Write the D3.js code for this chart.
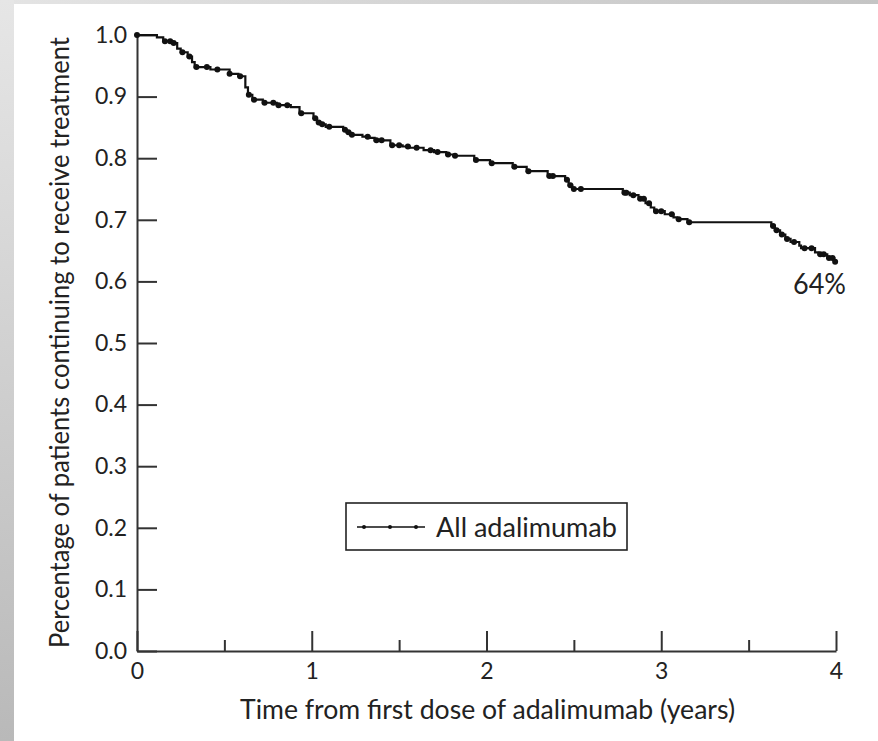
<!DOCTYPE html>
<html>
<head>
<meta charset="utf-8">
<script src="https://cdn.jsdelivr.net/npm/d3@7"></script>
<style>
  html, body { margin: 0; padding: 0; background: #fff; }
  svg { display: block; }
  text { font-family: Lato, "Open Sans", sans-serif; fill: #222; }
</style>
</head>
<body>
<svg id="chart" width="878" height="741"></svg>
<script>
// ---- Data ----
const xTickValues = [0, 1, 2, 3, 4];
const xMinorTickValues = [0.5, 1.5, 2.5, 3.5];
const yTickValues = [0, 0.1, 0.2, 0.3, 0.4, 0.5, 0.6, 0.7, 0.8, 0.9, 1.0];

// Kaplan-Meier step: time of drop (years) and survival after drop
const stepTimes = [0.114, 0.15, 0.20, 0.23, 0.25, 0.29, 0.315, 0.33, 0.42, 0.53, 0.58, 0.62, 0.635, 0.66, 0.72, 0.80, 0.88,
  0.93, 1.01, 1.03, 1.05, 1.08, 1.18, 1.20, 1.22, 1.29, 1.33, 1.36, 1.45, 1.52, 1.56, 1.64, 1.70, 1.77, 1.81, 1.93,
  2.02, 2.15, 2.23, 2.35, 2.45, 2.47, 2.49, 2.78, 2.82, 2.87, 2.91, 2.94, 2.96, 3.02, 3.07, 3.09, 3.15,
  3.63, 3.65, 3.68, 3.71, 3.74, 3.79, 3.80, 3.88, 3.90, 3.95, 3.99];
const stepSurv = [0.996, 0.990, 0.987, 0.978, 0.972, 0.965, 0.956, 0.948, 0.944, 0.937, 0.933, 0.915, 0.903, 0.895, 0.890, 0.886, 0.883,
  0.873, 0.865, 0.858, 0.855, 0.851, 0.846, 0.842, 0.838, 0.835, 0.833, 0.829, 0.821, 0.819, 0.817, 0.813, 0.810, 0.806, 0.804, 0.797,
  0.792, 0.786, 0.779, 0.771, 0.765, 0.756, 0.750, 0.744, 0.740, 0.734, 0.727, 0.720, 0.714, 0.709, 0.704, 0.701, 0.696,
  0.690, 0.683, 0.676, 0.669, 0.664, 0.658, 0.654, 0.647, 0.644, 0.638, 0.632];
// censored observations (marks on the curve)
const censorTimes = [0.0, 0.16, 0.19, 0.21, 0.26, 0.30, 0.34, 0.40, 0.46, 0.53, 0.59, 0.64, 0.67, 0.73, 0.78, 0.81, 0.86, 0.94,
  1.02, 1.04, 1.06, 1.10, 1.19, 1.21, 1.23, 1.32, 1.37, 1.40, 1.46, 1.50, 1.55, 1.60, 1.68, 1.72, 1.78, 1.82, 1.94,
  2.03, 2.16, 2.24, 2.36, 2.38, 2.46, 2.48, 2.50, 2.54, 2.79, 2.80, 2.84, 2.88, 2.90, 2.93, 2.97, 3.00, 3.06, 3.10, 3.16,
  3.64, 3.66, 3.69, 3.72, 3.76, 3.82, 3.86, 3.91, 3.93, 3.96, 3.98, 3.995];
const seriesName = "All adalimumab";
const endLabel = "64%";
const xTitle = "Time from first dose of adalimumab (years)";
const yTitle = "Percentage of patients continuing to receive treatment";

// ---- Layout ----
const svg = d3.select("#chart");
const W = 878, H = 741;
const mLeft = 137, mRight = 836, mTop = 35, mBottom = 651;

// background frame (slide-like gray edges)
const defs = svg.append("defs");
const gv = defs.append("linearGradient").attr("id", "gv").attr("x1", 0).attr("y1", 0).attr("x2", 0).attr("y2", 1);
gv.append("stop").attr("offset", "0%").attr("stop-color", "#e6e6e6");
gv.append("stop").attr("offset", "100%").attr("stop-color", "#b9b9b9");
const gh = defs.append("linearGradient").attr("id", "gh").attr("x1", 0).attr("y1", 0).attr("x2", 1).attr("y2", 0);
gh.append("stop").attr("offset", "0%").attr("stop-color", "#e4e4e4");
gh.append("stop").attr("offset", "100%").attr("stop-color", "#c4c4c4");
svg.append("rect").attr("x", 0).attr("y", 0).attr("width", W).attr("height", 4).attr("fill", "url(#gh)");
svg.append("rect").attr("x", 0).attr("y", 0).attr("width", 14).attr("height", H).attr("fill", "url(#gv)");

const x = d3.scaleLinear().domain([0, 4]).range([mLeft, mRight]);
const y = d3.scaleLinear().domain([0, 1]).range([mBottom, mTop]);

// fit a text to a target width by squeezing glyphs (text stays real text)
function fitText(sel, targetW) {
  const w = sel.node().getComputedTextLength();
  if (w > targetW) sel.attr("textLength", targetW).attr("lengthAdjust", "spacingAndGlyphs");
  else {
    const fs = parseFloat(sel.attr("font-size"));
    sel.attr("font-size", (fs * targetW / w).toFixed(2));
  }
  return sel;
}

// Y axis
const yAxis = svg.append("g").attr("transform", `translate(${mLeft},0)`)
  .call(d3.axisLeft(y).tickValues(yTickValues).tickFormat(d3.format(".1f"))
    .tickSizeInner(-20).tickSizeOuter(0).tickPadding(10));
yAxis.select(".domain").attr("stroke", "#333").attr("stroke-width", 2);
yAxis.selectAll(".tick line").attr("stroke", "#333").attr("stroke-width", 2);
yAxis.selectAll(".tick text").attr("font-size", 23).attr("font-family", "Lato, sans-serif").attr("fill", "#222");

// X axis (major)
const xAxis = svg.append("g").attr("transform", `translate(0,${mBottom})`)
  .call(d3.axisBottom(x).tickValues(xTickValues).tickFormat(d3.format("d"))
    .tickSizeInner(-20).tickSizeOuter(0).tickPadding(10));
xAxis.select(".domain").attr("stroke", "#333").attr("stroke-width", 2);
xAxis.selectAll(".tick line").attr("stroke", "#333").attr("stroke-width", 2);
xAxis.selectAll(".tick text").attr("font-size", 23).attr("font-family", "Lato, sans-serif").attr("fill", "#222")
  .attr("dy", null).attr("dominant-baseline", "central").attr("y", 19);
// X axis (minor)
const xMinor = svg.append("g").attr("transform", `translate(0,${mBottom})`)
  .call(d3.axisBottom(x).tickValues(xMinorTickValues).tickFormat("").tickSizeInner(-11).tickSizeOuter(0));
xMinor.select(".domain").remove();
xMinor.selectAll(".tick line").attr("stroke", "#333").attr("stroke-width", 2);

// Axis titles
const xt = svg.append("text").attr("x", (240 + 735) / 2).attr("y", 719).attr("text-anchor", "middle")
  .attr("font-size", 27).text(xTitle);
fitText(xt, 495);
const yt = svg.append("text").attr("transform", `translate(69,${(37 + 648) / 2}) rotate(-90)`)
  .attr("text-anchor", "middle").attr("font-size", 27).text(yTitle);
fitText(yt, 611);

// KM curve
const pts = [[0, 1]];
stepTimes.forEach((t, i) => pts.push([t, stepSurv[i]]));
const survAt = t => {
  let v = 1;
  for (let i = 0; i < stepTimes.length; i++) { if (stepTimes[i] <= t) v = stepSurv[i]; }
  return v;
};
const line = d3.line().x(d => x(d[0])).y(d => y(d[1])).curve(d3.curveStepAfter);
svg.append("path").datum(pts).attr("d", line).attr("fill", "none").attr("stroke", "#111").attr("stroke-width", 2.2);
svg.append("g").selectAll("circle").data(censorTimes).join("circle")
  .attr("cx", d => x(d)).attr("cy", d => y(survAt(d))).attr("r", 3).attr("fill", "#111");

// End label
const el = svg.append("text").attr("x", 793).attr("y", 283).attr("dominant-baseline", "central")
  .attr("font-size", 28).text(endLabel);
fitText(el, 53);

// Legend
const lg = svg.append("g");
lg.append("rect").attr("x", 346).attr("y", 503).attr("width", 281).attr("height", 47)
  .attr("fill", "#fff").attr("stroke", "#222").attr("stroke-width", 1.6);
lg.append("line").attr("x1", 357).attr("x2", 425).attr("y1", 527).attr("y2", 527).attr("stroke", "#111").attr("stroke-width", 1.6);
lg.selectAll("circle").data([364, 390, 416]).join("circle")
  .attr("cx", d => d).attr("cy", 527).attr("r", 2).attr("fill", "#111");
const lt = lg.append("text").attr("x", 436).attr("y", 526).attr("dominant-baseline", "central")
  .attr("font-size", 27).text(seriesName);
fitText(lt, 181);
</script>
</body>
</html>
